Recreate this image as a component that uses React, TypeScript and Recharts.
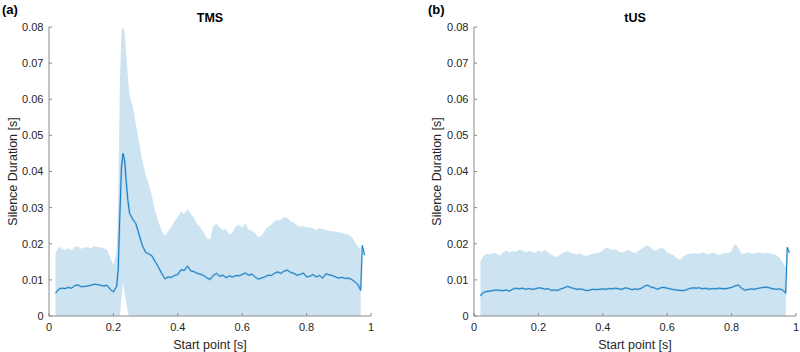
import { Area, ComposedChart, Label, Line, XAxis, YAxis } from "recharts";

const xTicks = [0, 0.2, 0.4, 0.6, 0.8, 1];
const yTicks = [0, 0.01, 0.02, 0.03, 0.04, 0.05, 0.06, 0.07, 0.08];

// TMS panel: start point, mean silence duration, upper edge of the shaded band
const tmsX = [
  0.02, 0.03, 0.04, 0.05, 0.06, 0.07, 0.08, 0.09, 0.1, 0.11, 0.12, 0.13, 0.14, 0.15, 0.16, 0.17, 0.18, 0.19, 0.2, 0.21,
  0.215, 0.22, 0.225, 0.23, 0.235, 0.24, 0.245, 0.25,
  0.26, 0.27, 0.28, 0.29, 0.3, 0.31, 0.32, 0.33, 0.34, 0.35, 0.36, 0.37, 0.38, 0.39, 0.4, 0.41, 0.42, 0.43, 0.44, 0.45,
  0.46, 0.47, 0.48, 0.49, 0.5, 0.51, 0.52, 0.53, 0.54, 0.55, 0.56, 0.57, 0.58, 0.59, 0.6, 0.61, 0.62, 0.63, 0.64, 0.65,
  0.66, 0.67, 0.68, 0.69, 0.7, 0.71, 0.72, 0.73, 0.74, 0.75, 0.76, 0.77, 0.78, 0.79, 0.8, 0.81, 0.82, 0.83, 0.84, 0.85,
  0.86, 0.87, 0.88, 0.89, 0.9, 0.91, 0.92, 0.93, 0.94, 0.95, 0.96,
  0.968, 0.973, 0.977, 0.98,
];
const tmsMean = [
  0.0063, 0.0074, 0.0077, 0.0076, 0.0079, 0.0077, 0.0084, 0.0086, 0.0081, 0.0082, 0.0083, 0.0085, 0.0088, 0.0087, 0.0085, 0.0083, 0.0085, 0.0074, 0.0067, 0.0082,
  0.013, 0.028, 0.041, 0.045, 0.043, 0.037, 0.032, 0.0285,
  0.0268, 0.0255, 0.0225, 0.0195, 0.0176, 0.0172, 0.0166, 0.015, 0.0135, 0.0118, 0.0103, 0.0108, 0.0107, 0.0112, 0.0115, 0.0128, 0.0126, 0.0138, 0.0125, 0.0123,
  0.0118, 0.0116, 0.0112, 0.0106, 0.0101, 0.0112, 0.0118, 0.011, 0.0113, 0.0106, 0.0111, 0.0108, 0.0112, 0.0111, 0.0115, 0.0119, 0.0113, 0.0116, 0.0108, 0.0102,
  0.0105, 0.0108, 0.0113, 0.0112, 0.0118, 0.0122, 0.0118, 0.0124, 0.0127, 0.0121, 0.0118, 0.0113, 0.0115, 0.0119, 0.0108, 0.011, 0.0115, 0.0108, 0.0112, 0.0105,
  0.0117, 0.0114, 0.0112, 0.0108, 0.0105, 0.0107, 0.0104, 0.0105, 0.0101, 0.0095, 0.0086,
  0.0071, 0.0195, 0.018, 0.0168,
];
const tmsHigh = [
  0.0172, 0.0192, 0.0186, 0.0183, 0.0188, 0.0181, 0.0192, 0.0193, 0.0186, 0.0189, 0.0191, 0.0187, 0.0194, 0.0191, 0.019, 0.0187, 0.0184, 0.0162, 0.0142, 0.0175,
  0.031, 0.064, 0.079, 0.08, 0.0785, 0.072, 0.066, 0.061,
  0.058, 0.053, 0.048, 0.043, 0.039, 0.0365, 0.033, 0.029, 0.026, 0.0235, 0.0222, 0.0235, 0.0248, 0.0262, 0.0275, 0.0289, 0.0282, 0.0296, 0.0283, 0.0272,
  0.0255, 0.0246, 0.0232, 0.0215, 0.0212, 0.0248, 0.0257, 0.0245, 0.0238, 0.0241, 0.0225, 0.0232, 0.0248, 0.0252, 0.0245, 0.0257, 0.0239, 0.0236, 0.023, 0.0218,
  0.0222, 0.0236, 0.0248, 0.0252, 0.0262, 0.0266, 0.0265, 0.0275, 0.0272, 0.0262, 0.0258, 0.0252, 0.0247, 0.0249, 0.0245, 0.0246, 0.0242, 0.0238, 0.0243, 0.024,
  0.0238, 0.0236, 0.0235, 0.0233, 0.0232, 0.023, 0.0228, 0.0225, 0.022, 0.0205, 0.0192,
  0.0187, null, null, null,
];
// lower edge of the band is below the axis except just after the pulse
const tmsGapX = [0.225, 0.23, 0.235, 0.24, 0.245];
const tmsGapLow = [0.005, 0.0093, 0.0065, 0.0037, 0.0008];

// tUS panel
const tusX = [
  0.02, 0.025, 0.03, 0.04, 0.05, 0.06, 0.07, 0.08, 0.09, 0.1, 0.11, 0.12, 0.13, 0.14, 0.15, 0.16, 0.17, 0.18, 0.19, 0.2,
  0.21, 0.22, 0.23, 0.24, 0.25, 0.26, 0.27, 0.28, 0.29, 0.3, 0.31, 0.32, 0.33, 0.34, 0.35, 0.36, 0.37, 0.38, 0.39, 0.4,
  0.41, 0.42, 0.43, 0.44, 0.45, 0.46, 0.47, 0.48, 0.49, 0.5, 0.51, 0.52, 0.53, 0.54, 0.55, 0.56, 0.57, 0.58, 0.59, 0.6,
  0.61, 0.62, 0.63, 0.64, 0.65, 0.66, 0.67, 0.68, 0.69, 0.7, 0.71, 0.72, 0.73, 0.74, 0.75, 0.76, 0.77, 0.78, 0.79, 0.8,
  0.81, 0.82, 0.83, 0.84, 0.85, 0.86, 0.87, 0.88, 0.89, 0.9, 0.91, 0.92, 0.93, 0.94, 0.95, 0.96,
  0.968, 0.973, 0.977, 0.98,
];
const tusMean = [
  0.0055, 0.0062, 0.0065, 0.0068, 0.0069, 0.0071, 0.0072, 0.0071, 0.007, 0.0072, 0.0069, 0.0074, 0.0077, 0.0075, 0.0077, 0.0074, 0.0076, 0.0074, 0.0075, 0.0078,
  0.0077, 0.0074, 0.0076, 0.0071, 0.0072, 0.0071, 0.0075, 0.0078, 0.0082, 0.0079, 0.0076, 0.0074, 0.0075, 0.0073, 0.007, 0.0072, 0.0074, 0.0073, 0.0074, 0.0075,
  0.0074, 0.0076, 0.0075, 0.0077, 0.0075, 0.0074, 0.0078, 0.0076, 0.0073, 0.0075, 0.0074, 0.0077, 0.0083, 0.0085, 0.008, 0.0078, 0.0074, 0.0078, 0.0079, 0.0077,
  0.0075, 0.0073, 0.0072, 0.0071, 0.007, 0.0073, 0.0076, 0.0078, 0.0077, 0.0078, 0.0075, 0.0077, 0.0074, 0.0076, 0.0075, 0.0077, 0.0076, 0.0075, 0.0077, 0.0079,
  0.0083, 0.0086, 0.0078, 0.0072, 0.0073, 0.0075, 0.0074, 0.0076, 0.0078, 0.0079, 0.008, 0.0077, 0.0075, 0.0074, 0.0075, 0.0071,
  0.0063, 0.019, 0.018, 0.0175,
];
const tusHigh = [
  0.015, 0.016, 0.0166, 0.0172, 0.017, 0.0175, 0.0172, 0.0167, 0.0176, 0.0182, 0.0176, 0.018, 0.0178, 0.0184, 0.0182, 0.0176, 0.018, 0.0178, 0.0175, 0.0181,
  0.0177, 0.0183, 0.0176, 0.017, 0.0165, 0.0164, 0.0171, 0.0176, 0.018, 0.0175, 0.0172, 0.0171, 0.0174, 0.0168, 0.0166, 0.017, 0.0172, 0.0174, 0.0176, 0.0181,
  0.019, 0.0186, 0.0182, 0.0185, 0.0178, 0.0176, 0.018, 0.0183, 0.0178, 0.0174, 0.018, 0.0186, 0.0192, 0.0196, 0.0188, 0.018, 0.0184, 0.0189, 0.0186, 0.0176,
  0.0172, 0.0168, 0.016, 0.0156, 0.0165, 0.017, 0.0172, 0.0174, 0.0173, 0.0172, 0.0176, 0.0174, 0.017, 0.0176, 0.0174, 0.0168, 0.0172, 0.0175, 0.0174, 0.018,
  0.0201, 0.019, 0.0174, 0.0172, 0.0176, 0.0174, 0.0173, 0.0176, 0.0175, 0.0173, 0.0176, 0.0172, 0.0171, 0.0168, 0.016, 0.0147,
  0.0134, null, null, null,
];

const tmsRows = tmsX.map((x, i) => {
  const g = tmsGapX.indexOf(x);
  const hi = tmsHigh[i];
  return { x, mean: tmsMean[i], band: hi == null ? null : [g >= 0 ? tmsGapLow[g] : 0, hi] };
});
const tusRows = tusX.map((x, i) => {
  const hi = tusHigh[i];
  return { x, mean: tusMean[i], band: hi == null ? null : [0, hi] };
});

const blue = "#0072BD";
const axisGrey = "#8a8a8a";
const textDark = "#262626";
const font = "'Liberation Sans', Arial, Helvetica, sans-serif";

const fmtX = (v: number) => (v === 0 ? "0" : v === 1 ? "1" : v.toFixed(1));
const fmtY = (v: number) => (v === 0 ? "0" : v.toFixed(2));

type PanelProps = {
  left: number;
  axisWidth: number;
  right: number;
  labelDx: number;
  title: string;
  letter: string;
  letterX: number;
  rows: { x: number; mean: number; band: number[] | null }[];
};

function Panel({ left, axisWidth, right, labelDx, title, letter, letterX, rows }: PanelProps) {
  const plotCenter = axisWidth + (400 - axisWidth - right) / 2;
  return (
    <div style={{ position: "absolute", left, top: 0, width: 400, height: 352 }}>
      <div
        style={{
          position: "absolute",
          left: letterX,
          top: 2,
          fontSize: 13,
          fontWeight: 700,
          color: "#000",
        }}
      >
        {letter}
      </div>
      <div
        style={{
          position: "absolute",
          left: plotCenter - 40,
          width: 80,
          top: 11,
          textAlign: "center",
          fontSize: 12.5,
          fontWeight: 700,
          color: "#000",
        }}
      >
        {title}
      </div>
      <ComposedChart width={400} height={352} data={rows} margin={{ top: 27, right, bottom: 0, left: 0 }}>
        <XAxis
          type="number"
          dataKey="x"
          domain={[0, 1]}
          ticks={xTicks}
          interval={0}
          tickFormatter={fmtX}
          height={36}
          stroke={axisGrey}
          tickSize={-3}
          tickMargin={10}
          tick={{ fill: textDark, fontSize: 11 }}
        >
          <Label
            value="Start point [s]"
            position="insideBottom"
            offset={3}
            style={{ fill: textDark, fontSize: 12.5 }}
          />
        </XAxis>
        <YAxis
          type="number"
          domain={[0, 0.08]}
          ticks={yTicks}
          interval={0}
          tickFormatter={fmtY}
          width={axisWidth}
          stroke={axisGrey}
          tickSize={-3}
          tickMargin={8.5}
          tick={{ fill: textDark, fontSize: 11 }}
        >
          <Label
            value="Silence Duration [s]"
            angle={-90}
            position="center"
            dx={labelDx}
            style={{ fill: textDark, fontSize: 12.5, textAnchor: "middle" }}
          />
        </YAxis>
        <Area
          type="linear"
          dataKey="band"
          stroke="none"
          fill={blue}
          fillOpacity={0.2}
          connectNulls
          isAnimationActive={false}
        />
        <Line
          type="linear"
          dataKey="mean"
          stroke={blue}
          strokeOpacity={0.22}
          strokeWidth={2.2}
          dot={false}
          isAnimationActive={false}
        />
        <Line
          type="linear"
          dataKey="mean"
          stroke={blue}
          strokeWidth={0.9}
          dot={false}
          isAnimationActive={false}
        />
      </ComposedChart>
    </div>
  );
}

export default function App() {
  return (
    <div
      style={{
        position: "absolute",
        left: 0,
        top: 0,
        width: 800,
        height: 352,
        background: "#fff",
        fontFamily: font,
        overflow: "hidden",
      }}
    >
      <Panel left={0} axisWidth={49} right={29} labelDx={-12} title="TMS" letter="(a)" letterX={2} rows={tmsRows} />
      <Panel left={400} axisWidth={74} right={4} labelDx={0} title="tUS" letter="(b)" letterX={28} rows={tusRows} />
    </div>
  );
}
